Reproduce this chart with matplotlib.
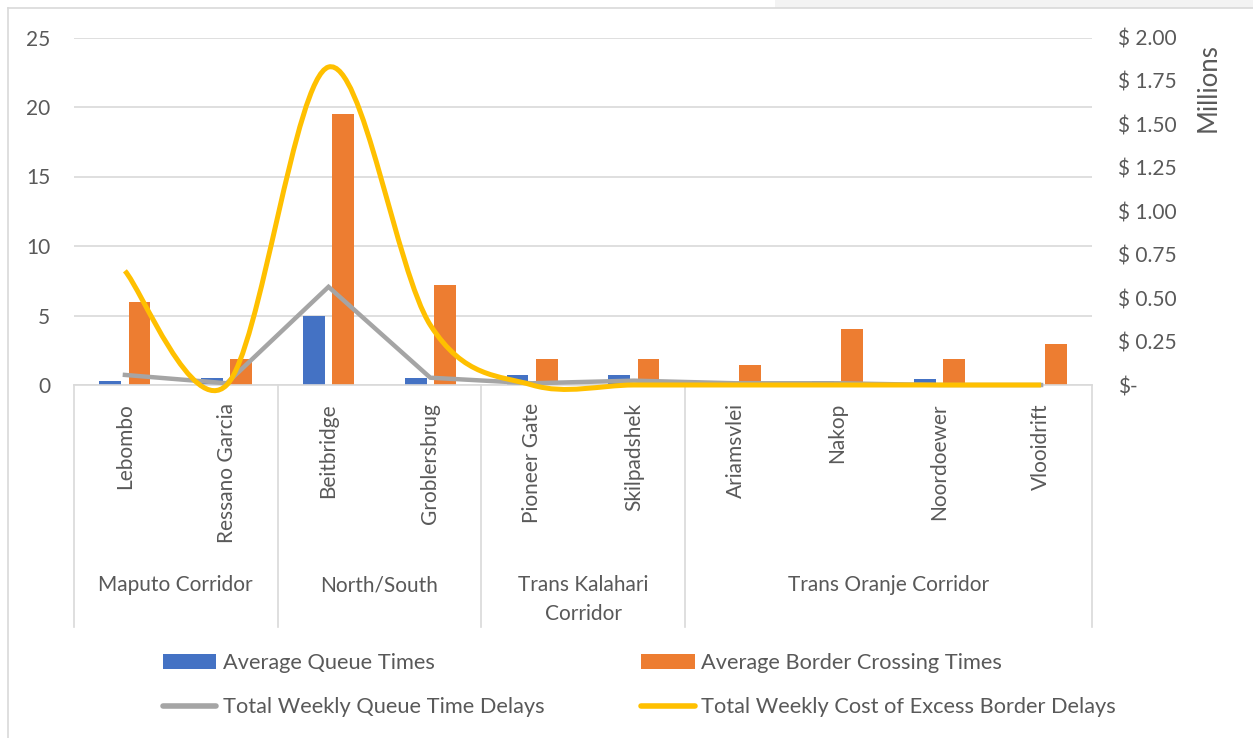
import numpy as np
import matplotlib
matplotlib.use("Agg")
import matplotlib.pyplot as plt
from matplotlib.path import Path
from matplotlib.patches import PathPatch, Rectangle
from matplotlib.lines import Line2D
from matplotlib.ticker import FuncFormatter
from matplotlib.transforms import blended_transform_factory

plt.rcParams['font.family'] = ['Lato', 'DejaVu Sans']

# border posts and the corridor each one sits on
posts = ['Lebombo', 'Ressano Garcia', 'Beitbridge', 'Groblersbrug', 'Pioneer Gate',
         'Skilpadshek', 'Ariamsvlei', 'Nakop', 'Noordoewer', 'Vlooidrift']
corridors = ['Maputo Corridor', 'North/South', 'Trans Kalahari\nCorridor', 'Trans Oranje Corridor']
corridor_sizes = [2, 2, 2, 4]

# hours
queue_times = [0.29, 0.48, 5.0, 0.52, 0.72, 0.72, 0.29, 0.29, 0.41, 0.0]
crossing_times = [5.95, 1.88, 19.5, 7.18, 1.9, 1.9, 1.44, 4.0, 1.9, 2.93]
# USD millions
queue_delays = [0.058, 0.01, 0.565, 0.042, 0.01, 0.025, 0.01, 0.01, 0.0, 0.0]
excess_cost = [0.657, 0.0, 1.83, 0.345, 0.0, 0.0, 0.0, 0.0, 0.0, 0.0]

BLUE = '#4472C4'
ORANGE = '#ED7D31'
GREY = '#A5A5A5'
YELLOW = '#FFC000'
TEXT = '#595959'
RULE = '#D9D9D9'
FS = 15


def smooth_path(xs, ys):
    # Catmull-Rom style bezier through every point, like a spreadsheet "smoothed line"
    pts = np.column_stack([xs, ys]).astype(float)
    ext = np.vstack([pts[0], pts, pts[-1]])
    verts = [pts[0]]
    codes = [Path.MOVETO]
    for i in range(len(pts) - 1):
        p0, p1, p2, p3 = ext[i], ext[i + 1], ext[i + 2], ext[i + 3]
        verts += [p1 + (p2 - p0) / 6, p2 - (p3 - p1) / 6, p2]
        codes += [Path.CURVE4] * 3
    return Path(verts, codes)


W, H = 1253, 738
fig = plt.figure(figsize=(W / 100, H / 100), dpi=100)
ax = fig.add_axes([74 / W, 1 - 385 / H, (1092 - 74) / W, (385 - 37.5) / H])
ax2 = ax.twinx()

x = np.arange(len(posts))
bw = 0.215
b1 = ax.bar(x - 0.143, queue_times, bw, color=BLUE, zorder=2)
b2 = ax.bar(x + 0.143, crossing_times, bw, color=ORANGE, zorder=2)

ln_grey, = ax2.plot(x, queue_delays, color=GREY, lw=3.2, solid_joinstyle='miter',
                    clip_on=False, zorder=3)
ax2.add_patch(PathPatch(smooth_path(x, excess_cost), fill=False, edgecolor=YELLOW,
                        lw=3.6, clip_on=False, zorder=4))
ln_yellow = Line2D([], [], color=YELLOW, lw=4, solid_capstyle='round')
grey_handle = Line2D([], [], color=GREY, lw=4, solid_capstyle='round')

ax.set_xlim(-0.5, len(posts) - 0.5)
ax.set_ylim(0, 25)
ax.set_yticks(range(0, 26, 5))
ax2.set_ylim(0, 2.0)
ax2.set_yticks(np.arange(0, 2.01, 0.25))
ax2.yaxis.set_major_formatter(FuncFormatter(lambda v, p: '$-' if v == 0 else f'$ {v:.2f}'))

ax.grid(axis='y', color=RULE, lw=1.2, zorder=0)
ax.set_axisbelow(True)
for a in (ax, ax2):
    for s in a.spines.values():
        s.set_visible(False)
ax.spines['bottom'].set_visible(True)
ax.spines['bottom'].set_color(RULE)
ax.spines['bottom'].set_linewidth(1.2)

ax.tick_params(axis='y', length=0, pad=17, labelsize=FS, labelcolor=TEXT)
ax2.tick_params(axis='y', length=0, pad=19, labelsize=FS, labelcolor=TEXT)
ax.set_xticks(x)
ax.set_xticklabels(posts, rotation=90)
ax.tick_params(axis='x', length=0, pad=13, labelsize=FS, labelcolor=TEXT)

# corridor grouping under the post names
trans = blended_transform_factory(ax.transData, ax.transAxes)
axh = 385 - 37.5
bottom = (385 - 627) / axh
edges = np.concatenate([[0], np.cumsum(corridor_sizes)]) - 0.5
for e in edges:
    ax.plot([e, e], [0, bottom], color=RULE, lw=1.2, transform=trans, clip_on=False)
for name, lo, hi in zip(corridors, edges[:-1], edges[1:]):
    ax.text((lo + hi) / 2, (385 - 575) / axh, name, transform=trans, ha='center', va='top',
            fontsize=FS, color=TEXT, linespacing=1.56)

fig.text(1208 / W, 1 - 88 / H, 'Millions', rotation=90, ha='center', va='center',
         fontsize=18.5, color=TEXT)

fig.legend([b1, grey_handle, b2, ln_yellow],
           ['Average Queue Times', 'Total Weekly Queue Time Delays',
            'Average Border Crossing Times', 'Total Weekly Cost of Excess Border Delays'],
           ncol=2, frameon=False, loc='center left', bbox_to_anchor=(163 / W, 1 - 685 / H),
           borderpad=0, borderaxespad=0, handlelength=2.45, handletextpad=0.28,
           columnspacing=4.45, labelspacing=1.12, fontsize=15.7, labelcolor=TEXT)

# chart frame
fig.add_artist(Line2D([8 / W, 8 / W], [0, 1 - 8 / H], color=RULE, lw=1.2))
fig.add_artist(Line2D([8 / W, 1], [1 - 8 / H, 1 - 8 / H], color=RULE, lw=1.2))
fig.add_artist(Rectangle((775 / W, 1 - 8 / H), 1, 8 / H, color='#F3F3F3', lw=0))

fig.savefig('out.png', dpi=100)
